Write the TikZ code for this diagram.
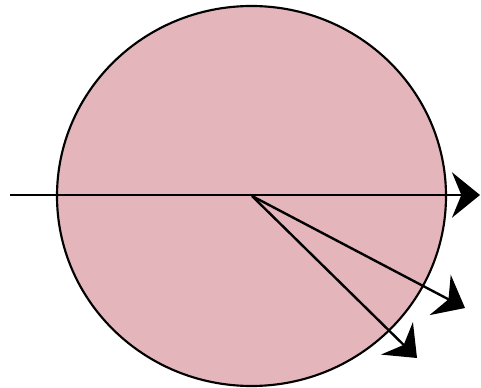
\documentclass[tikz,border=0pt]{standalone}
\usetikzlibrary{arrows.meta}
\definecolor{slab}{RGB}{228,182,188}
\begin{document}
\begin{tikzpicture}[x=0.75pt, y=-0.75pt, >={Stealth[length=21pt, width=34pt, inset=7pt]}]
		\useasboundingbox (0,0) rectangle (481,388);
		\draw[line width=1.6pt, fill=slab] (251.5,196) ellipse [x radius=194.5, y radius=190];
		\coordinate (o) at (252,196);
		\coordinate (w) at (10,195);
		\coordinate (e) at (480,195);
		\coordinate (r1) at (465,308);
		\coordinate (r2) at (417,358);
		\draw[->, line width=1.8pt] (w) -- (e);
		\foreach \t in {r1, r2} {
				\draw[->, line width=1.8pt] (o) -- (\t);
			}
	\end{tikzpicture}
\end{document}
